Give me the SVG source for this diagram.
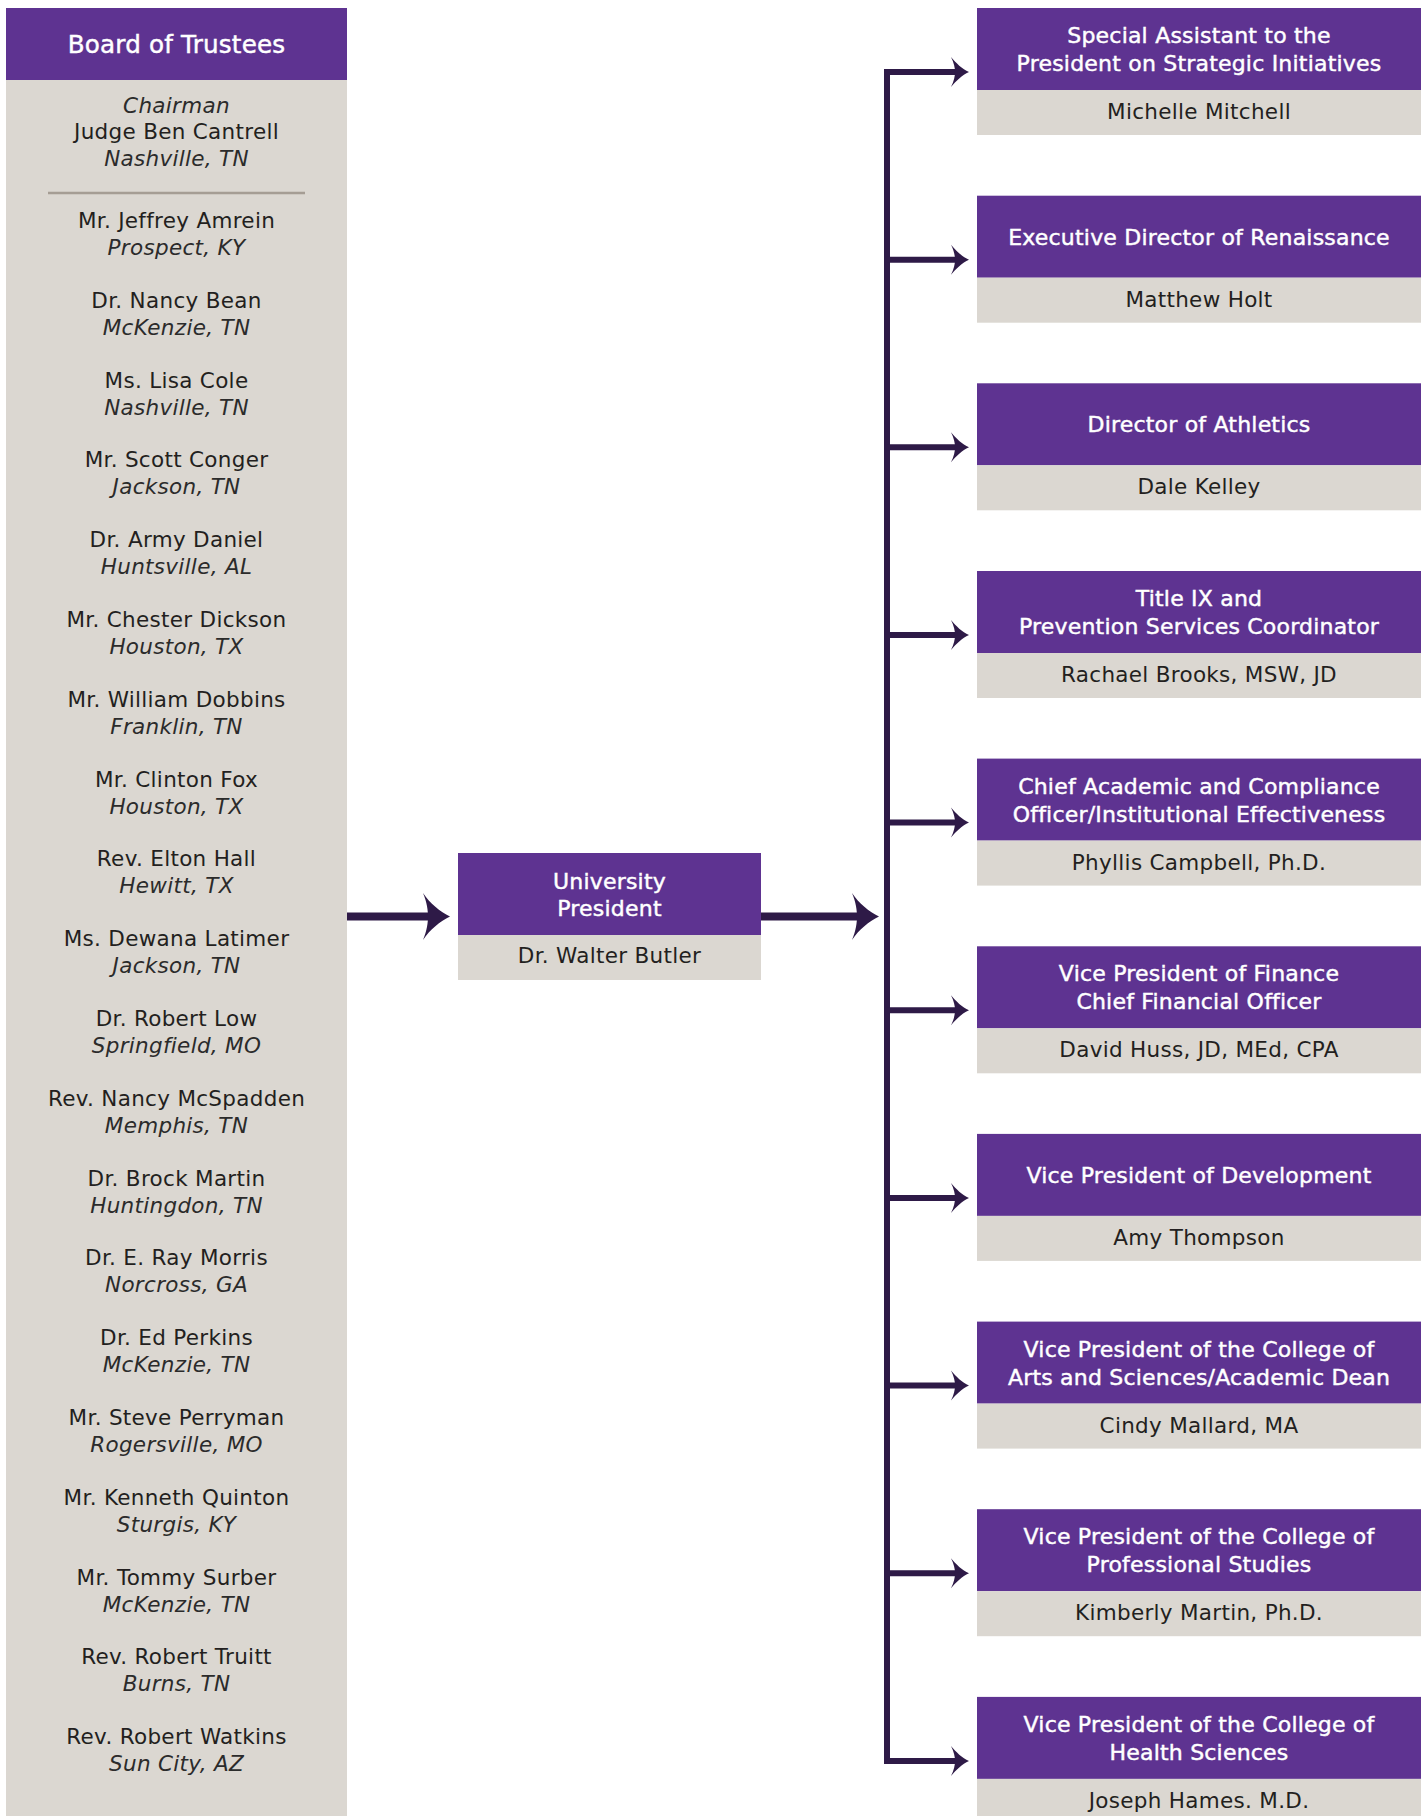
<svg xmlns="http://www.w3.org/2000/svg" xmlns:xlink="http://www.w3.org/1999/xlink" width="1427" height="1816" viewBox="0 0 1427 1816">
<style>
.pt{fill:#5e3391}
.gb{fill:#dbd7d1}
.tt{font-family:"DejaVu Sans","Noto Sans",sans-serif;font-size:22px;letter-spacing:0.2px;fill:#ffffff;stroke:#ffffff;stroke-width:0.45px;text-anchor:middle}
.nm{font-family:"DejaVu Sans","Noto Sans",sans-serif;font-size:21.5px;letter-spacing:0.3px;fill:#231f20;text-anchor:middle}
.loc{font-style:italic;fill:#2b2b2b}
.ln{stroke:#2e1a47;fill:none}
.ah{fill:#2e1a47}
</style>
<defs>
<path id="bigHead" d="M0,0 C-10,-5 -20,-13 -27,-23.5 C-23,-14 -22,-6 -22,0 C-22,6 -23,14 -27,23.5 C-20,13 -10,5 0,0 Z"/>
<path id="smallHead" d="M0,0 C-7,-3 -13,-9 -18,-15 C-15,-9 -14,-4 -14,0 C-14,4 -15,9 -18,15 C-13,9 -7,3 0,0 Z"/>
</defs>
<rect x="0" y="0" width="1427" height="1816" fill="#ffffff"/>

<g id="board">
<rect class="pt" x="6" y="8" width="341" height="72"/>
<rect class="gb" x="6" y="80" width="341" height="1736"/>
<text class="tt" x="176.5" y="53" style="font-size:24.6px">Board of Trustees</text>
<text class="nm loc" x="176.5" y="113">Chairman</text>
<text class="nm" x="176.5" y="139">Judge Ben Cantrell</text>
<text class="nm loc" x="176.5" y="166">Nashville, TN</text>
<line x1="48" y1="193" x2="305" y2="193" stroke="#a59d94" stroke-width="2.5"/>
<g class="nm">
<text x="176.5" y="228">Mr. Jeffrey Amrein</text><text class="loc" x="176.5" y="255">Prospect, KY</text>
<text x="176.5" y="307.8">Dr. Nancy Bean</text><text class="loc" x="176.5" y="334.8">McKenzie, TN</text>
<text x="176.5" y="387.6">Ms. Lisa Cole</text><text class="loc" x="176.5" y="414.6">Nashville, TN</text>
<text x="176.5" y="467.4">Mr. Scott Conger</text><text class="loc" x="176.5" y="494.4">Jackson, TN</text>
<text x="176.5" y="547.2">Dr. Army Daniel</text><text class="loc" x="176.5" y="574.2">Huntsville, AL</text>
<text x="176.5" y="627">Mr. Chester Dickson</text><text class="loc" x="176.5" y="654">Houston, TX</text>
<text x="176.5" y="706.8">Mr. William Dobbins</text><text class="loc" x="176.5" y="733.8">Franklin, TN</text>
<text x="176.5" y="786.6">Mr. Clinton Fox</text><text class="loc" x="176.5" y="813.6">Houston, TX</text>
<text x="176.5" y="866.4">Rev. Elton Hall</text><text class="loc" x="176.5" y="893.4">Hewitt, TX</text>
<text x="176.5" y="946.2">Ms. Dewana Latimer</text><text class="loc" x="176.5" y="973.2">Jackson, TN</text>
<text x="176.5" y="1026">Dr. Robert Low</text><text class="loc" x="176.5" y="1053">Springfield, MO</text>
<text x="176.5" y="1105.8">Rev. Nancy McSpadden</text><text class="loc" x="176.5" y="1132.8">Memphis, TN</text>
<text x="176.5" y="1185.6">Dr. Brock Martin</text><text class="loc" x="176.5" y="1212.6">Huntingdon, TN</text>
<text x="176.5" y="1265.4">Dr. E. Ray Morris</text><text class="loc" x="176.5" y="1292.4">Norcross, GA</text>
<text x="176.5" y="1345.2">Dr. Ed Perkins</text><text class="loc" x="176.5" y="1372.2">McKenzie, TN</text>
<text x="176.5" y="1425">Mr. Steve Perryman</text><text class="loc" x="176.5" y="1452">Rogersville, MO</text>
<text x="176.5" y="1504.8">Mr. Kenneth Quinton</text><text class="loc" x="176.5" y="1531.8">Sturgis, KY</text>
<text x="176.5" y="1584.6">Mr. Tommy Surber</text><text class="loc" x="176.5" y="1611.6">McKenzie, TN</text>
<text x="176.5" y="1664.4">Rev. Robert Truitt</text><text class="loc" x="176.5" y="1691.4">Burns, TN</text>
<text x="176.5" y="1744.2">Rev. Robert Watkins</text><text class="loc" x="176.5" y="1771.2">Sun City, AZ</text>
</g>
</g>

<g id="president" transform="translate(458,853)">
<rect class="pt" x="0" y="0" width="303" height="82"/>
<rect class="gb" x="0" y="82" width="303" height="45"/>
<text class="tt" x="151.5" y="36">University</text>
<text class="tt" x="151.5" y="63">President</text>
<text class="nm" x="151.5" y="110">Dr. Walter Butler</text>
</g>

<g id="special-assistant" transform="translate(977,8)">
<rect class="pt" width="444" height="82"/><rect class="gb" y="82" width="444" height="45"/>
<text class="tt" x="222" y="35">Special Assistant to the</text>
<text class="tt" x="222" y="63">President on Strategic Initiatives</text>
<text class="nm" x="222" y="111">Michelle Mitchell</text>
</g>
<g id="renaissance" transform="translate(977,195.7)">
<rect class="pt" width="444" height="82"/><rect class="gb" y="82" width="444" height="45"/>
<text class="tt" x="222" y="49">Executive Director of Renaissance</text>
<text class="nm" x="222" y="111">Matthew Holt</text>
</g>
<g id="athletics" transform="translate(977,383.3)">
<rect class="pt" width="444" height="82"/><rect class="gb" y="82" width="444" height="45"/>
<text class="tt" x="222" y="49">Director of Athletics</text>
<text class="nm" x="222" y="111">Dale Kelley</text>
</g>
<g id="title-ix" transform="translate(977,571)">
<rect class="pt" width="444" height="82"/><rect class="gb" y="82" width="444" height="45"/>
<text class="tt" x="222" y="35">Title IX and</text>
<text class="tt" x="222" y="63">Prevention Services Coordinator</text>
<text class="nm" x="222" y="111">Rachael Brooks, MSW, JD</text>
</g>
<g id="chief-academic" transform="translate(977,758.6)">
<rect class="pt" width="444" height="82"/><rect class="gb" y="82" width="444" height="45"/>
<text class="tt" x="222" y="35">Chief Academic and Compliance</text>
<text class="tt" x="222" y="63">Officer/Institutional Effectiveness</text>
<text class="nm" x="222" y="111">Phyllis Campbell, Ph.D.</text>
</g>
<g id="vp-finance" transform="translate(977,946.3)">
<rect class="pt" width="444" height="82"/><rect class="gb" y="82" width="444" height="45"/>
<text class="tt" x="222" y="35">Vice President of Finance</text>
<text class="tt" x="222" y="63">Chief Financial Officer</text>
<text class="nm" x="222" y="111">David Huss, JD, MEd, CPA</text>
</g>
<g id="vp-development" transform="translate(977,1133.9)">
<rect class="pt" width="444" height="82"/><rect class="gb" y="82" width="444" height="45"/>
<text class="tt" x="222" y="49">Vice President of Development</text>
<text class="nm" x="222" y="111">Amy Thompson</text>
</g>
<g id="vp-arts-sciences" transform="translate(977,1321.6)">
<rect class="pt" width="444" height="82"/><rect class="gb" y="82" width="444" height="45"/>
<text class="tt" x="222" y="35">Vice President of the College of</text>
<text class="tt" x="222" y="63">Arts and Sciences/Academic Dean</text>
<text class="nm" x="222" y="111">Cindy Mallard, MA</text>
</g>
<g id="vp-professional" transform="translate(977,1509.2)">
<rect class="pt" width="444" height="82"/><rect class="gb" y="82" width="444" height="45"/>
<text class="tt" x="222" y="35">Vice President of the College of</text>
<text class="tt" x="222" y="63">Professional Studies</text>
<text class="nm" x="222" y="111">Kimberly Martin, Ph.D.</text>
</g>
<g id="vp-health" transform="translate(977,1696.9)">
<rect class="pt" width="444" height="82"/><rect class="gb" y="82" width="444" height="45"/>
<text class="tt" x="222" y="35">Vice President of the College of</text>
<text class="tt" x="222" y="63">Health Sciences</text>
<text class="nm" x="222" y="111">Joseph Hames. M.D.</text>
</g>

<g id="connectors">
<line class="ln" x1="347" y1="916.5" x2="430" y2="916.5" stroke-width="8"/>
<use xlink:href="#bigHead" class="ah" transform="translate(450,916.5)"/>
<line class="ln" x1="761" y1="916.5" x2="858" y2="916.5" stroke-width="8"/>
<use xlink:href="#bigHead" class="ah" transform="translate(879,916.5)"/>
<line class="ln" x1="887" y1="69" x2="887" y2="1764" stroke-width="6"/>
<path class="ln" stroke-width="6" d="M884,72H956M887,259.7H956M887,447.3H956M887,635H956M887,822.6H956M887,1010.3H956M887,1197.9H956M887,1385.6H956M887,1573.2H956M884,1760.9H956"/>
<use xlink:href="#smallHead" class="ah" transform="translate(969,72)"/>
<use xlink:href="#smallHead" class="ah" transform="translate(969,259.7)"/>
<use xlink:href="#smallHead" class="ah" transform="translate(969,447.3)"/>
<use xlink:href="#smallHead" class="ah" transform="translate(969,635)"/>
<use xlink:href="#smallHead" class="ah" transform="translate(969,822.6)"/>
<use xlink:href="#smallHead" class="ah" transform="translate(969,1010.3)"/>
<use xlink:href="#smallHead" class="ah" transform="translate(969,1197.9)"/>
<use xlink:href="#smallHead" class="ah" transform="translate(969,1385.6)"/>
<use xlink:href="#smallHead" class="ah" transform="translate(969,1573.2)"/>
<use xlink:href="#smallHead" class="ah" transform="translate(969,1760.9)"/>
</g>
</svg>
